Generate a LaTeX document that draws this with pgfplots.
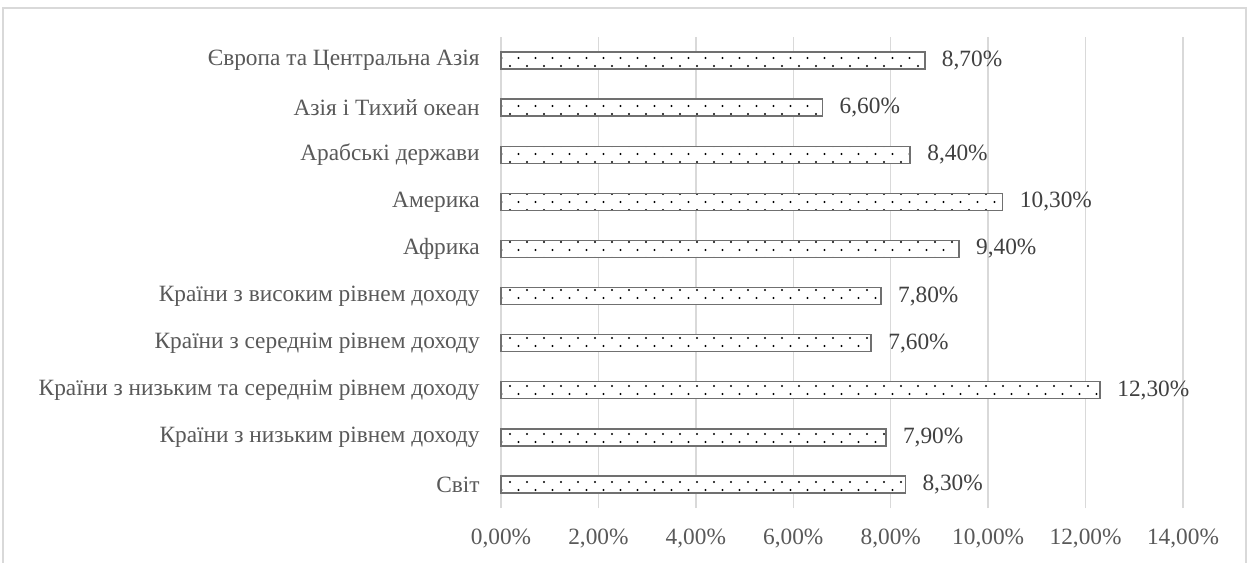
\documentclass[border=0pt]{standalone}
\usepackage{fontspec}
\setmainfont{Liberation Serif}
\usepackage{pgfplots}
\pgfplotsset{compat=1.18}
\usetikzlibrary{patterns}
\definecolor{gridc}{RGB}{217,217,217}
\definecolor{barc}{RGB}{112,112,112}
\definecolor{txtc}{RGB}{89,89,89}
\definecolor{lblc}{RGB}{64,64,64}
\definecolor{tickc}{RGB}{89,89,89}
\newcommand\myfont{\fontsize{17.5}{20}\selectfont}
\pgfdeclarepatternformonly{mydots}{\pgfpoint{-1pt}{-1pt}}{\pgfpoint{8pt}{8pt}}{\pgfpoint{12.75pt}{12pt}}{%
  \pgfpathcircle{\pgfpoint{0pt}{0pt}}{0.8pt}%
  \pgfpathcircle{\pgfpoint{6.375pt}{6pt}}{0.8pt}%
  \pgfusepath{fill}}
\begin{document}
\myfont
\begin{tikzpicture}[x=0.75pt,y=0.75pt,font=\myfont]
\path[use as bounding box] (0,0) rectangle (1249,562);
\fill[white] (0,0) rectangle (1249,562);
\draw[gridc, line width=0.8pt] (3,-10) rectangle (1246,554);
\begin{axis}[
  at={(375.75pt,40.5pt)}, anchor=south west,
  scale only axis,
  width=511.5pt, height=353.25pt,
  xmin=0, xmax=14, ymin=-0.5, ymax=9.5,
  xbar, bar width=12.75pt,
  axis line style={draw=none},
  major tick length=0pt,
  xmajorgrids, grid style={gridc, line width=1pt},
  xtick={0,2,4,6,8,10,12,14},
  xticklabels={{0,00\%},{2,00\%},{4,00\%},{6,00\%},{8,00\%},{10,00\%},{12,00\%},{14,00\%}},
  ytick={0,...,9},
  yticklabels={Світ,Країни з низьким рівнем доходу,Країни з низьким та середнім рівнем доходу,Країни з середнім рівнем доходу,Країни з високим рівнем доходу,Африка,Америка,Арабські держави,Азія і Тихий океан,Європа та Центральна Азія},
  tick label style={font=\myfont},
  yticklabel style={text=txtc, xshift=-10pt},
  xticklabel style={text=tickc, yshift=-10pt},
  point meta=explicit symbolic,
  nodes near coords,
  nodes near coords align=horizontal,
  nodes near coords style={font=\myfont, text=lblc, anchor=west, xshift=6.5pt},
  clip=false,
]
\addplot[draw=barc, line width=1.1pt, fill=white, postaction={pattern=mydots, pattern color=black}] coordinates {
(8.3,0) [8,30\%]
(7.9,1) [7,90\%]
(12.3,2) [12,30\%]
(7.6,3) [7,60\%]
(7.8,4) [7,80\%]
(9.4,5) [9,40\%]
(10.3,6) [10,30\%]
(8.4,7) [8,40\%]
(6.6,8) [6,60\%]
(8.7,9) [8,70\%]
};
\end{axis}
\end{tikzpicture}
\end{document}
